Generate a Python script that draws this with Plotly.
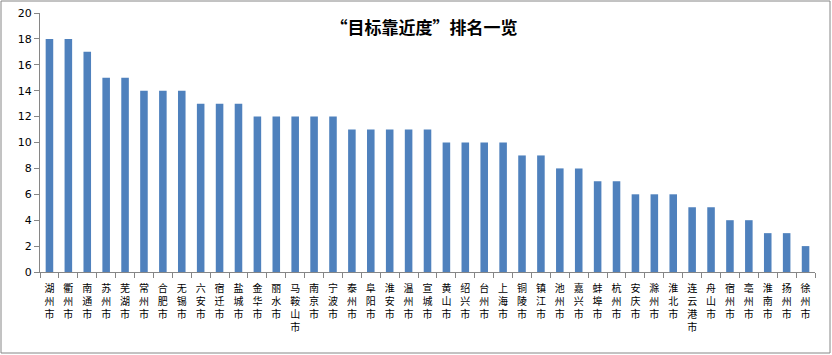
import plotly.graph_objects as go

cities = ["湖州市", "衢州市", "南通市", "苏州市", "芜湖市", "常州市", "合肥市", "无锡市", "六安市", "宿迁市",
          "盐城市", "金华市", "丽水市", "马鞍山市", "南京市", "宁波市", "泰州市", "阜阳市", "淮安市", "温州市",
          "宣城市", "黄山市", "绍兴市", "台州市", "上海市", "铜陵市", "镇江市", "池州市", "嘉兴市", "蚌埠市",
          "杭州市", "安庆市", "滁州市", "淮北市", "连云港市", "舟山市", "宿州市", "亳州市", "淮南市", "扬州市", "徐州市"]
values = [18, 18, 17, 15, 15, 14, 14, 14, 13, 13,
          13, 12, 12, 12, 12, 12, 11, 11, 11, 11,
          11, 10, 10, 10, 10, 9, 9, 8, 8, 7,
          7, 6, 6, 6, 5, 5, 4, 4, 3, 3, 2]
y_ticks = list(range(0, 21, 2))
title = "“目标靠近度”排名一览"

W, H = 832, 355
ml, mr, mt, mb = 40, 17, 13, 83

fig = go.Figure(go.Bar(x=cities, y=values, marker=dict(color="#4F81BD", line=dict(width=0)),
                       width=0.4))

stacked = ["<br>".join(list(c)) for c in cities]
pw = W - ml - mr
ph = H - mt - mb

fig.update_layout(
    width=W, height=H,
    margin=dict(l=ml, r=mr, t=mt, b=mb, autoexpand=False),
    plot_bgcolor="white", paper_bgcolor="white",
    showlegend=False,
    font=dict(family="Noto Sans CJK SC", color="black"),
    title=dict(text="<b>" + title + "</b>", x=424 / W, xanchor="center",
               y=1 - 28 / H, yanchor="middle",
               font=dict(size=17, family="Noto Sans CJK SC", color="black")),
    xaxis=dict(tickmode="array", tickvals=cities, ticktext=stacked, automargin=False,
               tickangle=0, tickfont=dict(size=10, family="Noto Sans CJK SC"),
               ticklabelstandoff=7,
               showline=True, linecolor="#868686", linewidth=1,
               ticks="outside", ticklen=5, tickcolor="#868686", tickson="boundaries",
               showgrid=False, range=[-0.5, len(cities) - 0.5]),
    yaxis=dict(range=[0, 20], tickvals=y_ticks, ticks="outside", ticklen=5, automargin=False,
               tickcolor="#868686", showline=True, linecolor="#868686", linewidth=1,
               showgrid=False, zeroline=False,
               tickfont=dict(size=11, family="DejaVu Sans", color="black")),
    shapes=[dict(type="rect", xref="paper", yref="paper",
                 x0=(1 - ml) / pw, x1=(830 - ml) / pw,
                 y0=(H - mb - 353) / ph, y1=(H - mb - 1) / ph,
                 line=dict(color="#868686", width=1), fillcolor="rgba(0,0,0,0)", layer="below")],
)

fig.write_html("out.html", config={"displayModeBar": False},
               post_script="document.body.style.margin='0';document.body.style.overflow='hidden';")
